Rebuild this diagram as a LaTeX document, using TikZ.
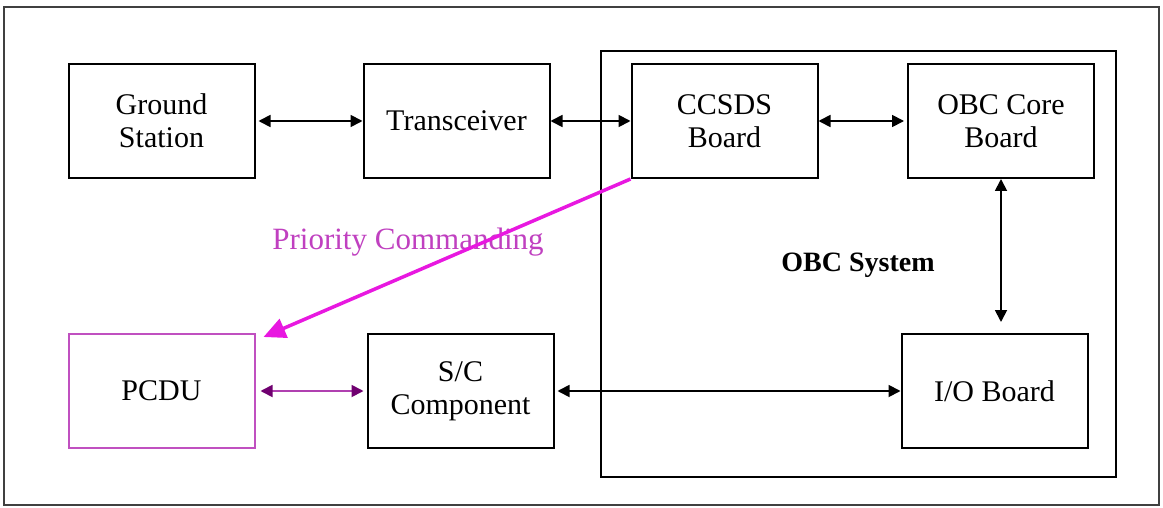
\documentclass[tikz,border=0pt]{standalone}
\usepackage{fontspec}
\setmainfont{Liberation Serif}
\usetikzlibrary{arrows.meta,calc}
\definecolor{magline}{HTML}{E818E0}
\definecolor{magtext}{HTML}{C040C0}
\definecolor{pcduborder}{HTML}{C050C0}
\definecolor{pline}{HTML}{B040B0}
\definecolor{phead}{HTML}{700070}
\begin{document}
\begin{tikzpicture}[x=1pt,y=-1pt,
  blk/.style={draw=black,line width=2pt,minimum width=186pt,minimum height=114pt,
    inner sep=0pt,align=center,font=\fontsize{30}{33}\selectfont},
  link/.style={line width=1.8pt,{Triangle[length=12pt,width=12pt]}-{Triangle[length=12pt,width=12pt]}},
  plink/.style={line width=1.8pt,draw=pline,
    {Triangle[length=12pt,width=12pt,color=phead]}-{Triangle[length=12pt,width=12pt,color=phead]}}]
\useasboundingbox (0,0) rectangle (1163,508);
\fill[white] (0,0) rectangle (1163,508);
\draw[line width=2pt,black!75] (4,7) rectangle (1159,505);
\node[draw=black,line width=2pt,minimum width=515pt,minimum height=426pt,inner sep=0pt] (obc) at (858.5,264) {};
\node[font=\bfseries\fontsize{28}{30}\selectfont] (obclabel) at (858,265) {OBC System};
\node[blk] (gs) at (161.5,121) {Ground\\Station};
\node[blk] (tr) at (456.5,121) {Transceiver};
\node[blk] (cc) at (724.5,121) {CCSDS\\Board};
\node[blk] (core) at (1001,121) {OBC Core\\Board};
\node[blk,draw=pcduborder] (pcdu) at (161.5,391) {PCDU};
\node[blk] (sc) at (460.5,391) {S/C\\Component};
\node[blk] (io) at (994.5,391) {I/O Board};
\node[text=magtext,font=\fontsize{31}{33}\selectfont] (prio) at (408,242) {Priority Commanding};
\draw[link,shorten <=3pt] (gs) -- (tr);
\draw[link] (tr) -- (cc);
\draw[link,shorten >=3pt] (cc) -- (core);
\draw[link,shorten >=11pt] (core.south) -- (core.south |- io.north);
\draw[link,shorten <=3pt] (sc) -- (io);
\draw[plink,shorten <=5pt,shorten >=3pt] (pcdu) -- (sc);
\draw[line width=3.5pt,magline,-{Triangle[length=22pt,width=20pt]}] (cc.south west) -- ($(pcdu.north east)+(8,4)$);
\end{tikzpicture}
\end{document}
